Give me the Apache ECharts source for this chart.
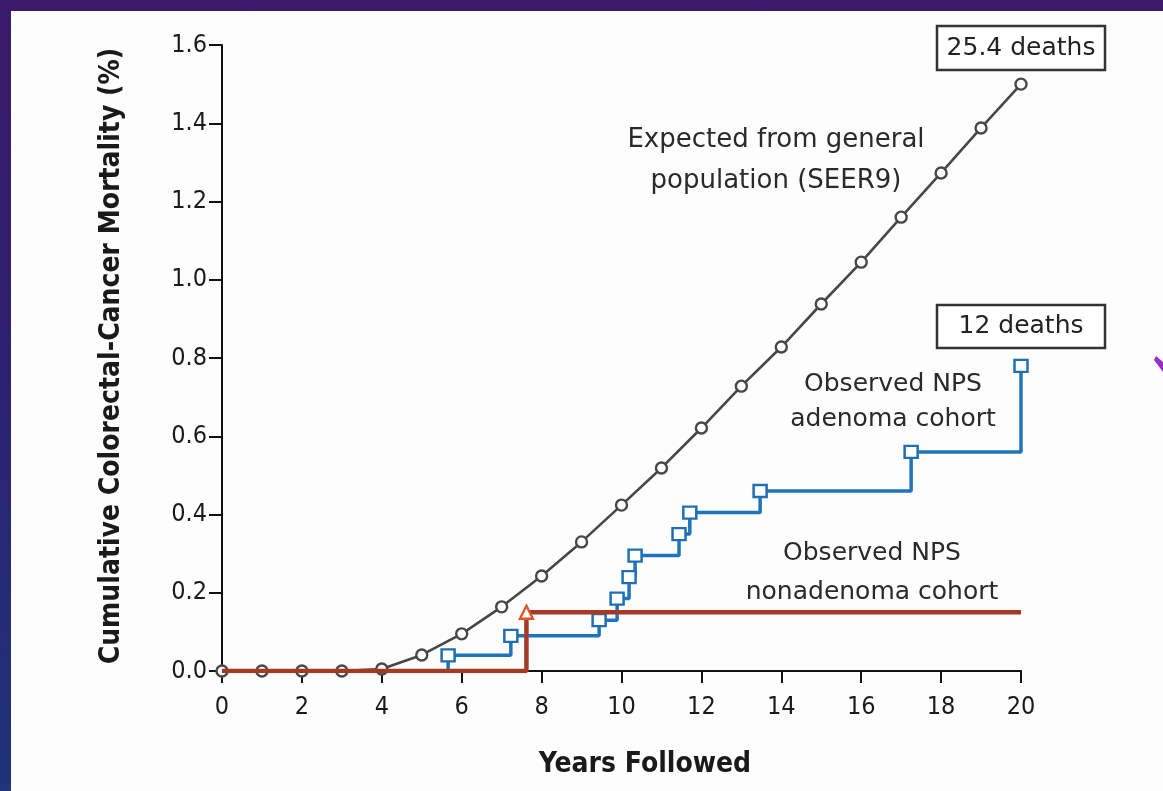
<!DOCTYPE html>
<html>
<head>
<meta charset="utf-8">
<script src="https://cdn.jsdelivr.net/npm/echarts@6/dist/echarts.min.js"></script>
<style>
html,body{margin:0;padding:0;width:1163px;height:791px;overflow:hidden;}
body{background:linear-gradient(180deg,#3b1a6a 0%,#2c2270 50%,#1f3479 100%);position:relative;}
#panel{position:absolute;left:11px;top:11px;right:0;bottom:0;background:#fdfdfd;}
#chart{position:absolute;left:0;top:0;width:1163px;height:791px;}
</style>
</head>
<body>
<div id="panel"></div>
<div id="chart"></div>
<script>
// ---- data ----
const years = [0,1,2,3,4,5,6,7,8,9,10,11,12,13,14,15,16,17,18,19,20];
const expectedSEER = [0,0,0,0,0.005,0.041,0.095,0.164,0.243,0.33,0.424,0.519,0.621,0.728,0.828,0.938,1.045,1.16,1.273,1.388,1.5];
const adenomaYears = [0,5.66,7.23,9.44,9.89,10.19,10.34,11.44,11.71,13.47,17.25,20];
const adenomaValues = [0,0.04,0.09,0.13,0.185,0.24,0.295,0.35,0.405,0.46,0.56,0.78];
const nonadenomaYears = [0,7.62,20];
const nonadenomaValues = [0,0.15,0.15];
const xTicks = [0,2,4,6,8,10,12,14,16,18,20];
const yTicks = [0,0.2,0.4,0.6,0.8,1.0,1.2,1.4,1.6];
const xTitle = 'Years Followed';
const yTitle = 'Cumulative Colorectal-Cancer Mortality (%)';
const labelExpected = 'Expected from general\npopulation (SEER9)';
const labelAdenoma = 'Observed NPS\nadenoma cohort';
const labelNonadenoma = 'Observed NPS\nnonadenoma cohort';
const boxExpected = '25.4 deaths';
const boxAdenoma = '12 deaths';

const FONT_C = '"DejaVu Sans Condensed","Liberation Sans Narrow","DejaVu Sans",sans-serif';
const FONT = '"DejaVu Sans",sans-serif';
const chart = echarts.init(document.getElementById('chart'), null, {renderer:'canvas'});

const seerData = years.map((y,i)=>[y, expectedSEER[i]]);
const adenomaData = adenomaYears.map((y,i)=>({value:[y, adenomaValues[i]], symbol: i===0 ? 'none' : 'rect'}));
const nonadenomaData = nonadenomaYears.map((y,i)=>({value:[y, nonadenomaValues[i]], symbol: i===1 ? 'triangle' : 'none'}));

chart.setOption({
  animation:false,
  backgroundColor:'transparent',
  grid:{left:222, right:142, top:45, bottom:120, containLabel:false},
  xAxis:{
    type:'value', min:0, max:20, interval:2,
    axisLine:{show:true, onZero:false, lineStyle:{color:'#111', width:2}},
    axisTick:{show:true, length:12, lineStyle:{color:'#111', width:2}},
    axisLabel:{fontFamily:FONT_C, fontSize:25, color:'#1a1a1a', margin:24,
      customValues: xTicks},
    splitLine:{show:false}
  },
  yAxis:{
    type:'value', min:0, max:1.6, interval:0.2,
    axisLine:{show:true, onZero:false, lineStyle:{color:'#111', width:2}},
    axisTick:{show:true, length:13, lineStyle:{color:'#111', width:2}},
    axisLabel:{fontFamily:FONT_C, fontSize:25, color:'#1a1a1a', margin:15,
      customValues: yTicks, formatter:v=>v.toFixed(1)},
    splitLine:{show:false}
  },
  series:[
    {
      name:'Expected', type:'line', data:seerData, z:2,
      symbol:'circle', symbolSize:11,
      lineStyle:{color:'#474747', width:2.6},
      itemStyle:{color:'#ffffff', borderColor:'#474747', borderWidth:2.4}
    },
    {
      name:'Adenoma', type:'line', step:'end', data:adenomaData, z:3,
      symbolSize:[13,12],
      lineStyle:{color:'#1f74bb', width:3.5},
      itemStyle:{color:'#ffffff', borderColor:'#1f6fb2', borderWidth:2.4}
    },
    {
      name:'Nonadenoma', type:'line', step:'end', data:nonadenomaData, z:4,
      symbolSize:13,
      lineStyle:{color:'#a43a25', width:4.5},
      itemStyle:{color:'#ffffff', borderColor:'#e0542c', borderWidth:2.4}
    }
  ],
  graphic:[
    {type:'text', x:645, y:765, style:{text:xTitle, fontFamily:FONT_C, fontWeight:'bold', fontSize:28, fill:'#1a1a1a', align:'center', verticalAlign:'middle'}, z:11},
    {type:'text', x:112, y:356, rotation:Math.PI/2, style:{text:yTitle, fontFamily:FONT_C, fontWeight:'bold', fontSize:28, fill:'#1a1a1a', align:'center', verticalAlign:'middle'}, z:11},
    {type:'rect', shape:{x:937, y:26, width:168, height:44}, style:{fill:'#fff', stroke:'#333', lineWidth:2.5}, z:10},
    {type:'text', x:1021, y:48, style:{text:boxExpected, fontFamily:FONT, fontSize:25, fill:'#222', align:'center', verticalAlign:'middle'}, z:11},
    {type:'rect', shape:{x:937, y:305, width:168, height:43}, style:{fill:'#fff', stroke:'#333', lineWidth:2.5}, z:10},
    {type:'text', x:1021, y:326, style:{text:boxAdenoma, fontFamily:FONT, fontSize:25, fill:'#222', align:'center', verticalAlign:'middle'}, z:11},
    {type:'text', x:776, y:161, style:{text:labelExpected, fontFamily:FONT, fontSize:26, lineHeight:41, fill:'#2a2a2a', align:'center', verticalAlign:'middle'}, z:11},
    {type:'text', x:893, y:402, style:{text:labelAdenoma, fontFamily:FONT, fontSize:25, lineHeight:35, fill:'#2a2a2a', align:'center', verticalAlign:'middle'}, z:11},
    {type:'text', x:872, y:573, style:{text:labelNonadenoma, fontFamily:FONT, fontSize:25, lineHeight:39, fill:'#2a2a2a', align:'center', verticalAlign:'middle'}, z:11},
    {type:'polygon', shape:{points:[[1156,356],[1163,362],[1163,372],[1160,368],[1154,360]]}, style:{fill:'#9a2fc4'}, z:11}
  ]
});
</script>
</body>
</html>
